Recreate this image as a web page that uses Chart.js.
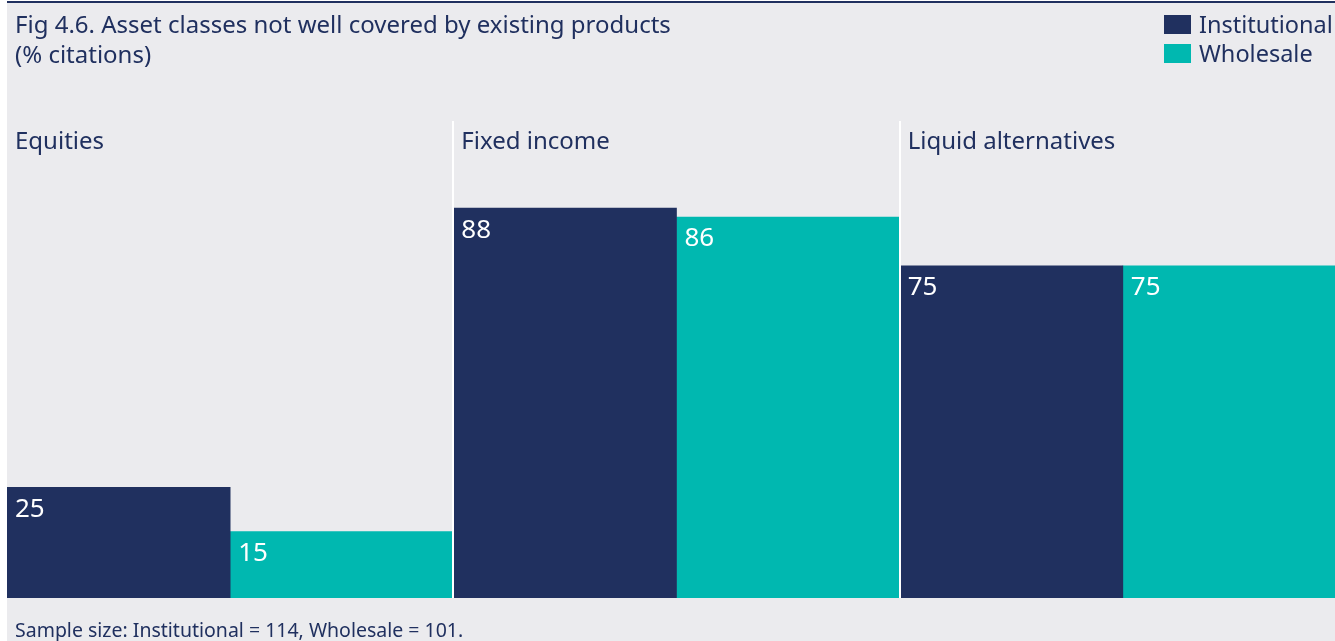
<!DOCTYPE html>
<html>
<head>
<meta charset="utf-8">
<script src="https://cdn.jsdelivr.net/npm/chart.js@4/dist/chart.umd.min.js"></script>
<style>
  html, body { margin: 0; padding: 0; background: #ffffff; overflow: hidden; width: 1335px; height: 641px; }
  #panel { position: absolute; left: 7px; top: 1px; width: 1328px; height: 640px; background: #ebebee; border-top: 2px solid #20305f; box-sizing: border-box; }
  .txt { position: absolute; font-family: "Noto Sans", sans-serif; color: #20305f; white-space: nowrap; }
  #title { left: 15px; top: 9px; font-size: 24px; line-height: 30px; }
  #footer { left: 15px; top: 618px; font-size: 19.5px; line-height: 24px; }
  .lg { position: absolute; left: 1164px; width: 27px; height: 19px; }
  #chartwrap { position: absolute; left: 7px; top: 0; width: 1339px; height: 641px; }
</style>
</head>
<body>
<div id="panel"></div>
<div id="chartwrap"><canvas id="c" width="1339" height="641"></canvas></div>
<div id="title" class="txt">Fig 4.6. Asset classes not well covered by existing products<br>(% citations)</div>
<div class="lg" style="top:15px;background:#20305f"></div>
<div class="txt" style="left:1199px;top:9px;font-size:23.5px;line-height:30px;">Institutional</div>
<div class="lg" style="top:44px;background:#00b8b0"></div>
<div class="txt" style="left:1199px;top:38px;font-size:23.5px;line-height:30px;">Wholesale</div>
<div id="footer" class="txt">Sample size: Institutional = 114, Wholesale = 101.</div>
<script>
const categories = ["Equities", "Fixed income", "Liquid alternatives"];
const seriesNames = ["Institutional", "Wholesale"];
const institutional = [25, 88, 75];
const wholesale = [15, 86, 75];
const colors = ["#20305f", "#00b8b0"];

const NAVY = "#20305f";
const FONT = '"Noto Sans", sans-serif';

const overlay = {
  id: "overlay",
  afterDatasetsDraw(chart) {
    const ctx = chart.ctx;
    const x = chart.scales.x;
    const area = chart.chartArea;
    const n = categories.length;
    const gw = (area.right - area.left) / n;
    ctx.save();
    // separators
    ctx.strokeStyle = "#ffffff";
    ctx.lineWidth = 2;
    for (let i = 1; i < n; i++) {
      const bx = Math.round(area.left + gw * i);
      ctx.beginPath();
      ctx.moveTo(bx, 121);
      ctx.lineTo(bx, area.bottom);
      ctx.stroke();
    }
    // category labels
    ctx.fillStyle = NAVY;
    ctx.font = "24px " + FONT;
    ctx.textAlign = "left";
    ctx.textBaseline = "middle";
    categories.forEach((c, i) => {
      const left = x.getPixelForValue(i) - gw / 2;
      ctx.fillText(c, left + 8, 142);
    });
    // value labels
    ctx.fillStyle = "#ffffff";
    ctx.font = "26px " + FONT;
    chart.data.datasets.forEach((ds, di) => {
      const meta = chart.getDatasetMeta(di);
      meta.data.forEach((bar, i) => {
        const left = bar.x - bar.width / 2;
        ctx.fillText(String(ds.data[i]), left + 8, bar.y + 22);
      });
    });
    ctx.restore();
  }
};

new Chart(document.getElementById("c"), {
  type: "bar",
  data: {
    labels: categories,
    datasets: [
      { label: seriesNames[0], data: institutional, backgroundColor: colors[0], borderWidth: 0 },
      { label: seriesNames[1], data: wholesale, backgroundColor: colors[1], borderWidth: 0 }
    ]
  },
  options: {
    responsive: false,
    animation: false,
    layout: { padding: { top: 155, bottom: 43, left: 0, right: 0 } },
    plugins: { legend: { display: false }, tooltip: { enabled: false }, title: { display: false } },
    datasets: { bar: { barPercentage: 1, categoryPercentage: 1 } },
    scales: {
      x: { display: false },
      y: { display: false, min: 0, max: 100 }
    }
  },
  plugins: [overlay]
});
</script>
</body>
</html>
